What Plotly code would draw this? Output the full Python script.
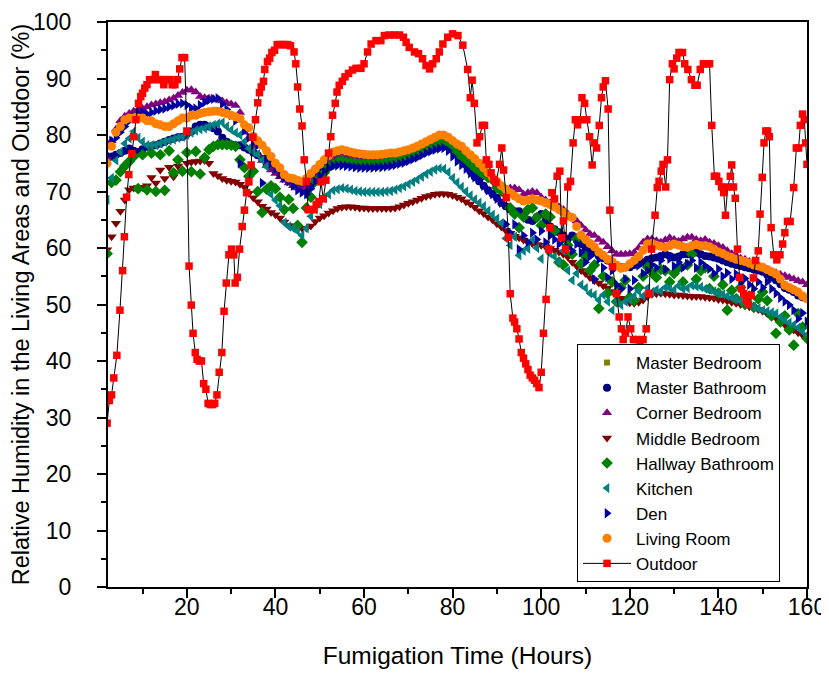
import plotly.graph_objects as go

hours = list(range(2, 161))

living_room = [
    75, 78, 80.5, 81.5, 82.7, 83, 83, 83, 83, 82.5,
    82.5, 82, 81.8, 81.5, 81.5, 82, 82.5, 83, 83, 83.5,
    83.5, 83.8, 84, 84.1, 84.2, 84.2, 84, 83.8, 83.5, 83.2,
    82.9, 81.8, 81.3, 79.8, 79, 78.2, 77.2, 76.2, 75, 74.2,
    73, 72.4, 72.3, 72, 71.8, 72.3, 73.2, 74, 74.8, 75.6,
    76.3, 77, 77.2, 77.4, 77.2, 77, 76.8, 76.7, 76.6, 76.5,
    76.5, 76.5, 76.6, 76.7, 76.8, 76.8, 77, 77.2, 77.4, 77.7,
    78, 78.4, 78.8, 79.2, 79.6, 80, 80, 79.6, 79, 78.4,
    78, 77.2, 76.5, 75.8, 75, 74.2, 73.3, 72.5, 71.8, 71,
    70.4, 69.8, 69.2, 68.7, 68.3, 68.5, 68.7, 68.5, 68.3, 68,
    67.7, 67.3, 66.8, 66.3, 65.7, 65.4, 63.8, 62.3, 61.5, 60.8,
    60.2, 59.3, 58.7, 58, 57.6, 57, 56.4, 56.6, 57.2, 57.8,
    58.5, 59.6, 60.7, 60.8, 60.5, 60.3, 60.1, 60.4, 60.7, 60.5,
    60.2, 60.1, 60.4, 60.6, 60.4, 60.4, 60.2, 59.8, 59.3, 59,
    58.6, 58.3, 58, 57.8, 57.6, 57.3, 57, 56.8, 56.6, 56.2,
    55.8, 55.4, 54.5, 53.4, 53, 52.6, 52.2, 51.5, 51,
]

corner_bedroom = [
    76, 79, 81, 82.5, 83.3, 83.8, 84.2, 84.5, 84.7, 85,
    85.3, 85.5, 85.7, 85.9, 86.2, 86.5, 87, 87.5, 87.9, 88,
    87.6, 86.8, 86.6, 86.5, 86.4, 86.2, 86, 85.7, 85.5, 85.2,
    84, 80.5, 79.5, 78, 76.5, 75.5, 74.6, 73.8, 73.2, 72.6,
    72, 71.5, 71, 70.6, 70.3, 70.8, 72, 73.5, 74.5, 75.2,
    75.6, 76, 76.2, 76.2, 76, 75.9, 75.8, 75.7, 75.7, 75.6,
    75.6, 75.6, 75.7, 75.8, 75.9, 76, 76.2, 76.5, 76.8, 77.1,
    77.5, 77.9, 78.3, 78.7, 79, 79.3, 79.3, 78.9, 78.4, 78,
    77.4, 76.8, 76, 75.2, 74.5, 73.7, 72.9, 72.1, 71.4, 70.7,
    70.5, 70.6, 70.6, 70.3, 69.5, 69.8, 70, 69.8, 69, 68.5,
    68, 67.7, 67.3, 66.8, 66, 65.3, 64.8, 64, 63.2, 62.5,
    62.2, 61.5, 61, 60.2, 59.5, 58.9, 58.9, 58.9, 59, 59.2,
    60, 61, 61.6, 61.6, 61.3, 61, 61.4, 61.8, 61.5, 61.2,
    61.6, 61.9, 61.9, 61.5, 61.3, 61.5, 61, 60.8, 60.4, 60.1,
    59.5, 59, 58.5, 58.2, 58, 57.6, 57, 56.6, 56.2, 56,
    55.8, 55.6, 55.3, 55.1, 54.8, 54.5, 54.2, 54, 53.5,
]

master_bathroom = [
    75.5, 76.2, 76.5, 76.8, 77.2, 77.6, 77.2, 77, 77.5, 77.9,
    78, 78.2, 78.5, 78.8, 79.1, 79.4, 79.6, 79.7, 80.2, 80.6,
    81.5, 81.8, 81.8, 81.5, 81.2, 80.6, 79.5, 78.8, 78.3, 78.2,
    78.2, 77.8, 77.4, 76.9, 76.4, 75.8, 74.9, 74.2, 73.7, 73.1,
    72.5, 71.8, 71.3, 71.1, 70.7, 70.3, 71, 72.4, 73.5, 74.3,
    75, 75.2, 75.3, 75.5, 75.6, 75.5, 75.4, 75.3, 75.3, 75.3,
    75.3, 75.3, 75.4, 75.5, 75.6, 75.7, 75.9, 76.1, 76.4, 76.7,
    77, 77.4, 77.8, 78.2, 78.6, 78.9, 79, 78.6, 78, 77,
    76, 74.8, 73.6, 72.6, 71.8, 71, 70.2, 69.6, 68.9, 68,
    67.4, 66.8, 66.5, 66.5, 65.8, 65, 64.8, 65.5, 66, 64.8,
    63.8, 63.3, 62.8, 62.2, 61.6, 62.2, 61.4, 60.7, 60, 59.5,
    59.2, 58.6, 58.2, 57.8, 57.4, 57, 56.6, 56.6, 56.6, 57,
    57.3, 57.5, 57.9, 58.2, 58.3, 58.6, 58.9, 58.6, 58.3, 58.5,
    58.9, 58.9, 59.1, 59.2, 58.9, 58.6, 58.5, 58.3, 58.1, 57.8,
    57.5, 57.2, 57, 56.8, 56.6, 56.4, 56.2, 56, 55.8, 55.3,
    54.8, 54.3, 53.6, 52.9, 52.6, 52.2, 51.6, 51.3, 51,
]

master_bedroom = list(master_bathroom)

den = [
    76.5, 79, 79.5, 80.5, 81.5, 82.5, 83.2, 83.8, 84, 83.7,
    84, 84.3, 84.5, 84.7, 85, 85.2, 85.5, 85.6, 85.3, 84.8,
    84.7, 85.3, 85.8, 86.2, 86.4, 86.5, 85.5, 84.5, 83.5, 82.5,
    75, 80.8, 79.5, 78.8, 78.2, 71.5, 75.9, 75, 74, 73,
    72.4, 71.8, 71, 70.2, 69.8, 69.5, 70.5, 71.8, 72.8, 73.6,
    74.2, 74.5, 74.6, 74.6, 74.5, 74.4, 74.3, 74.2, 74.2, 74.2,
    74.2, 74.3, 74.3, 74.4, 74.5, 74.7, 74.9, 75.1, 75.4, 75.7,
    76, 76.4, 76.8, 77.1, 77.4, 77.6, 77.7, 77.2, 76.2, 75.3,
    74.7, 74, 73.2, 72.5, 72.1, 71, 70.2, 69.5, 68.7, 68,
    64.2, 62.7, 64.2, 59.8, 62.2, 61, 62.7, 61.5, 63, 61,
    62.2, 61.5, 60.7, 61.5, 60, 59.5, 60.7, 59.2, 57.5, 58.5,
    54.5, 58, 56.5, 54.8, 56, 53.5, 52.8, 54.5, 52.8, 54.3,
    56.9, 55.5, 56, 57, 56.5, 57.8, 56.2, 58.1, 56.8, 57.5,
    56.5, 57.2, 57.8, 56.5, 57.5, 56.8, 56.3, 55.5, 56.3, 55,
    55.6, 54.5, 55.4, 53.8, 54.6, 53.5, 52.8, 54, 53, 54,
    52.8, 52, 51.2, 50.5, 49.9, 49, 47.5, 48.5, 47,
]

hallway_bathroom = [
    59, 71.6, 72, 73.5, 74.5, 75.3, 76.2, 70.5, 76.5, 70.3,
    76.8, 70, 76.5, 70.2, 77.2, 73.3, 75.6, 73.6, 76.9, 73.5,
    77.1, 73.1, 76, 77.4, 78, 78.3, 78.3, 78.3, 78.2, 78,
    75.6, 74.2, 72.7, 73.6, 70, 66.3, 70.4, 71, 70.5, 69,
    66.8, 68.6, 67, 64, 61, 67.1, 69, 71.8, 72.5, 73.3,
    74.3, 74.8, 75.2, 75.5, 75.2, 75.1, 75, 74.9, 74.9, 74.9,
    74.9, 74.9, 75, 75.1, 75.2, 75.4, 75.6, 75.8, 76.1, 76.4,
    76.8, 77.2, 77.6, 78, 78.3, 78.5, 78.6, 78.2, 77.4, 76.6,
    76, 75.4, 74.8, 74.2, 73.6, 73, 72.5, 72.1, 70.7, 70.1,
    69.5, 67.1, 66, 63.6, 65.5, 66.8, 67.1, 65.4, 64, 66,
    65.5, 63, 57.5, 57, 60.5, 58.9, 61.6, 57.2, 58.5, 56,
    57, 49.3, 55, 52, 54, 50.5, 53, 54.3, 51.3, 50.7,
    53, 55, 56.6, 55.7, 54.8, 56.2, 56, 54, 55.5, 56.5,
    54, 57, 58.9, 54.5, 56, 56.5, 52.8, 55, 52, 53.5,
    49, 52.5, 51, 53, 50, 51.5, 49.5, 51, 52.2, 50.7,
    48, 44.9, 46.9, 48, 45.5, 42.8, 48.4, 46, 44,
]

kitchen = [
    68.5, 72.4, 75.5, 77, 78.5, 79.4, 80.6, 79.5, 78.8, 78.2,
    78.2, 78.2, 78.5, 78.8, 79, 79.2, 79.5, 79.7, 80.1, 80.4,
    80.8, 81, 81.2, 81.5, 81.8, 82, 82.2, 81.5, 80.9, 80.4,
    80, 78.8, 77.6, 77, 76.6, 75.6, 74.4, 69.5, 68.5, 67.5,
    64.5, 63.8, 63.5, 63, 62.2, 63.5, 65.6, 66.8, 67.8, 68.8,
    69.5, 70.2, 70.4, 70.6, 70.5, 70.3, 70.1, 70, 69.9, 69.9,
    69.9, 69.9, 69.9, 70, 70.1, 70.3, 70.6, 70.9, 71.3, 71.7,
    72.1, 72.6, 73.1, 73.5, 73.9, 74.1, 74, 73.4, 72.4, 71.6,
    70.8, 70, 69.3, 68.6, 68, 67.4, 66.6, 65.9, 65.2, 64.4,
    61.7, 60.5, 62, 58.7, 59.5, 59.9, 61.4, 60, 58.1, 60.5,
    59, 58.5, 57.5, 59.5, 56, 54.3, 55.5, 53.5, 52.9, 52,
    51.7, 50.8, 51.7, 50.5, 49, 50.5, 49.9, 50.5, 50.8, 51.5,
    52.4, 51.5, 52.9, 52.2, 52.6, 52.4, 53, 52.9, 52.6, 53.3,
    52.8, 52.9, 53.4, 53.2, 53.1, 52.8, 52.6, 52.3, 52, 51.8,
    51.5, 51.2, 51, 50.6, 50.3, 50, 49.6, 49.3, 49, 48.8,
    48.6, 48.4, 47.8, 47.2, 46.8, 46.4, 45.9, 45.2, 44.6,
]

middle_bedroom = [
    59.7, 62, 64.4, 66.5, 68.5, 70.3, 70.6, 70.7, 70.7, 71,
    72.5, 71.5, 73.8, 72.3, 74.3, 72.6, 74.5, 73.5, 75, 75.2,
    75.3, 75.4, 75.5, 75, 73.2, 72.8, 72.3, 72, 71.8, 71.7,
    71.3, 70.8, 69.7, 68.9, 68.2, 67.4, 66.9, 66.3, 65.9, 65.3,
    64.6, 64, 63.7, 63.5, 63.5, 63.5, 63.9, 64.7, 65.3, 65.7,
    66.2, 66.6, 67, 67.2, 67.3, 67.3, 67.2, 67.1, 67.1, 67,
    67, 67, 67, 67, 67, 67.1, 67.3, 67.6, 67.9, 68.2,
    68.5, 68.8, 69.1, 69.3, 69.5, 69.6, 69.6, 69.5, 69.3, 69,
    68.7, 68.2, 67.8, 67.2, 66.6, 66.1, 65.5, 65, 64.3, 63.7,
    63.1, 62.6, 62.1, 61.8, 61.4, 61, 60.8, 60.6, 60.5, 60.2,
    59.9, 59.6, 59.3, 58.9, 58.4, 57.5, 56.8, 56, 55.5, 54.8,
    54.2, 53.8, 53.3, 52.9, 52.3, 51.7, 51.1, 50.7, 50.3, 50.2,
    50.4, 50.8, 51.4, 51.8, 51.9, 52, 51.9, 51.8, 51.7, 51.7,
    51.6, 51.5, 51.4, 51.4, 51.4, 51.3, 51.2, 51.1, 50.9, 50.8,
    50.6, 50.4, 50.2, 50, 49.9, 49.6, 49.4, 49.1, 48.8, 48.4,
    48.1, 47.6, 47, 46.4, 45.9, 45.5, 45, 44.6, 44.3,
]

outdoor_t = [
    2.0, 2.5, 3.0, 3.5, 4.2, 4.9, 5.5, 5.9, 6.4, 6.9, 7.6, 8.0, 8.5, 9.1, 9.6,
    10.0, 10.5, 11.0, 11.6, 12.3, 12.9, 13.5, 14.2, 14.8, 15.5, 16.2, 16.7, 17.3,
    17.9, 18.4, 18.9, 19.5, 20.0, 20.5, 21.0, 21.4, 21.9, 22.3, 22.8, 23.3, 23.8,
    24.3, 24.8, 25.3, 25.8, 26.3, 26.8, 27.3, 27.9, 28.4, 28.9, 29.5, 30.1, 30.6,
    30.9, 31.4, 31.9, 32.5, 33.0, 33.5, 34.0, 34.5, 34.9, 35.5, 36.0, 36.4, 36.8,
    37.3, 37.6, 38.2, 38.7, 39.2, 39.8, 40.4, 41.0, 41.6, 42.2, 42.8, 43.4, 44.2,
    44.6, 45.0, 45.5, 46.0, 46.5, 47.0, 47.4, 48.0, 48.7, 49.2, 49.8, 50.3, 50.8,
    51.4, 52.0, 52.5, 52.9, 53.5, 53.9, 54.4, 55.1, 55.7, 56.5, 57.4, 58.2, 59.3,
    60.0, 60.8, 61.6, 62.7, 63.8, 64.6, 65.7, 66.8, 68.0, 68.9, 69.5, 70.2, 71.4,
    72.3, 73.2, 74.0, 74.8, 75.5, 76.3, 77.0, 77.8, 78.9, 80.0, 81.2, 82.3, 83.4,
    84.0, 84.4, 84.9, 85.5, 86.1, 86.7, 87.2, 87.6, 88.2, 88.7, 89.3, 89.8, 90.6,
    91.1, 91.5, 92.1, 92.6, 93.0, 93.6, 94.0, 94.5, 95.0, 95.5, 96.0, 96.5, 97.0,
    97.5, 98.0, 98.5, 99.0, 99.5, 100.0, 100.5, 101.1, 101.7, 102.0, 102.4, 103.0,
    103.6, 104.2, 104.6, 105.0, 105.5, 106.0, 106.6, 107.2, 107.7, 108.2, 108.8,
    109.2, 109.8, 110.3, 110.9, 111.5, 112.0, 112.5, 113.1, 113.6, 114.0, 114.5,
    115.1, 115.5, 116.1, 117.0, 117.6, 118.1, 118.5, 119.0, 119.6, 120.2, 120.8,
    121.5, 122.3, 123.0, 123.7, 124.3, 124.9, 125.7, 126.2, 126.6, 127.1, 127.5,
    128.1, 128.5, 129.0, 129.6, 130.0, 130.6, 131.1, 131.9, 132.4, 133.1, 133.9,
    134.7, 135.2, 135.9, 136.6, 137.4, 138.0, 138.5, 139.1, 139.6, 140.1, 140.7,
    141.2, 141.6, 142.1, 142.7, 143.0, 143.4, 143.8, 144.3, 144.8, 145.2, 145.7,
    146.3, 146.8, 147.4, 147.9, 148.4, 149.0, 149.4, 149.9, 150.3, 150.7, 151.1,
    151.5, 151.9, 152.5, 153.2, 153.9, 154.5, 155.0, 155.6, 156.2, 157.0, 157.6,
    158.1, 158.5, 159.0, 159.4, 159.7, 160.0,
]

outdoor_v = [
    29, 33, 34, 37, 41, 49, 56, 62, 69, 73, 76.7, 79.7, 82.7, 85.6, 86.8,
    87.4, 88.3, 88.9, 89.8, 89.8, 90.7, 89.8, 89.8, 88.9, 89.8, 89.8, 88.9, 88.9,
    89.8, 91.7, 93.7, 93.7, 80.7, 56.8, 49.9, 44.9, 41.5, 40.3, 40, 40, 36,
    35, 32.5, 32.3, 32.3, 32.5, 34, 38, 41.5, 48.8, 53.8, 58.8, 59.8, 58.8,
    53.8, 54.8, 59.8, 63.8, 66.7, 69.8, 71.7, 74.7, 79.6, 82.7, 85.7, 87.5, 88.5,
    89.5, 91.6, 93, 93.6, 94.6, 95, 96, 96, 96, 96, 96, 95.8, 94.7,
    92.6, 88.5, 84.6, 81.6, 75.6, 71.8, 66.8, 66.8, 66.8, 67.7, 68.2, 71.7, 68.7,
    72, 76.8, 79.7, 83.5, 85.6, 87.6, 88.8, 89.5, 90.3, 90.9, 91.5, 91.8, 91.8,
    92.6, 94.7, 96.1, 96.7, 96.7, 97.6, 97.7, 97.7, 97.7, 97.3, 96.4, 95.5, 94.7,
    94.4, 93.5, 92.3, 91.7, 92.6, 93.5, 94.7, 96.1, 97.3, 97.9, 97.6, 95.9, 91.6,
    86.6, 89.7, 85.6, 78.6, 79.7, 81.7, 81.7, 75.6, 74.8, 73.3, 72.1, 71.6, 74.8,
    77.7, 73.8, 68.9, 61.9, 51.9, 47.6, 46.9, 45.7, 43.9, 41.5, 40.5, 39.5, 38.5,
    37.5, 37, 36.6, 36, 35.3, 38, 44.9, 50.9, 59.8, 63.6, 69.8, 68.7,
    72.7, 73.6, 61.8, 64.8, 59.8, 70.8, 71.8, 78.6, 82.7, 81.8, 82.7,
    86.6, 85.6, 82.7, 79.7, 74.7, 78.6, 77.7, 81.7, 86.6, 88.5, 89.6,
    84.6, 66.7, 56.7, 51.9, 47.8, 45.7, 43.8, 44.9, 47.8, 45.7, 43.8,
    43.8, 43.4, 43.8, 45.7, 51.9, 59.8, 65.8, 70.7, 71.8, 73.6, 74.8,
    70.8, 75.6, 89.8, 92.6, 91.7, 93.6, 94.6, 94.6, 92.6, 91.6, 89.8,
    88.8, 88.8, 91.6, 92.6, 92.6, 92.6, 81.7, 72.7, 72.7, 71.8, 70.8,
    69.8, 65.8, 70.8, 72.7, 74.7, 70.8, 68.8, 59.8, 54.8, 52.8, 51.9,
    50.7, 50, 51.6, 54.7, 57.8, 59.5, 66, 72.5, 78.6, 80.7, 80.7,
    79.7, 63.6, 58.8, 57.9, 58.8, 60.7, 62.7, 64.7, 64.7, 70.7, 77.7,
    77.7, 81.7, 83.7, 82.7, 78.6, 74.8,
]

FONT = "Liberation Sans, Arial, sans-serif"

fig = go.Figure()

def add(name, vals, symbol, color, size=8):
    fig.add_trace(go.Scatter(
        x=hours[:len(vals)], y=vals, name=name, mode="markers",
        marker=dict(symbol=symbol, color=color, size=size, line=dict(width=0)),
    ))

add("Master Bedroom", master_bedroom, "square", "#808000", 6)
add("Master Bathroom", master_bathroom, "circle", "#000080", 8)
add("Corner Bedroom", corner_bedroom, "triangle-up", "#800080", 9)
add("Middle Bedroom", middle_bedroom, "triangle-down", "#800000", 9)
add("Hallway Bathroom", hallway_bathroom, "diamond", "#008000", 9)
add("Kitchen", kitchen, "triangle-left", "#008080", 9)
add("Den", den, "triangle-right", "#0000A0", 9)
add("Living Room", living_room, "circle", "#FF8000", 9)

fig.add_trace(go.Scatter(
    x=outdoor_t, y=outdoor_v, name="Outdoor", mode="lines+markers",
    line=dict(color="black", width=1),
    marker=dict(symbol="square", color="#FF0000", size=7.5, line=dict(width=0)),
))

axis_common = dict(
    showline=True, linecolor="black", linewidth=2, mirror=True,
    ticks="outside", ticklen=9, tickwidth=1.5, tickcolor="black",
    showgrid=False, zeroline=False, automargin=False,
    ticklabeloverflow="allow",
    tickfont=dict(family=FONT, size=23, color="black"),
)

fig.update_layout(
    width=821, height=665,
    margin=dict(l=100, r=22, t=14, b=86),
    paper_bgcolor="white", plot_bgcolor="white",
    font=dict(family=FONT, color="black"),
    showlegend=True,
    legend=dict(
        x=0.671, y=0.0088, xanchor="left", yanchor="bottom",
        bgcolor="white", bordercolor="black", borderwidth=1,
        font=dict(family=FONT, size=17, color="black"),
        itemsizing="trace", itemwidth=48, tracegroupgap=0,
    ),
    xaxis=dict(
        range=[2.2, 160], tick0=0, dtick=20, ticklabelstandoff=-11,
        minor=dict(dtick=10, ticks="outside", ticklen=5, tickwidth=1.5, tickcolor="black"),
        title=dict(text="Fumigation Time (Hours)", font=dict(family=FONT, size=24.5, color="black"), standoff=28),
        **axis_common,
    ),
    yaxis=dict(
        range=[0, 100], tick0=0, dtick=10, ticklabelstandoff=21,
        minor=dict(dtick=5, ticks="outside", ticklen=5, tickwidth=1.5, tickcolor="black"),
        title=dict(text="Relative Humidity in the Living Areas and Outdoor (%)", font=dict(family=FONT, size=23.5, color="black"), standoff=0),
        **axis_common,
    ),
)

fig.write_html("out.html")
